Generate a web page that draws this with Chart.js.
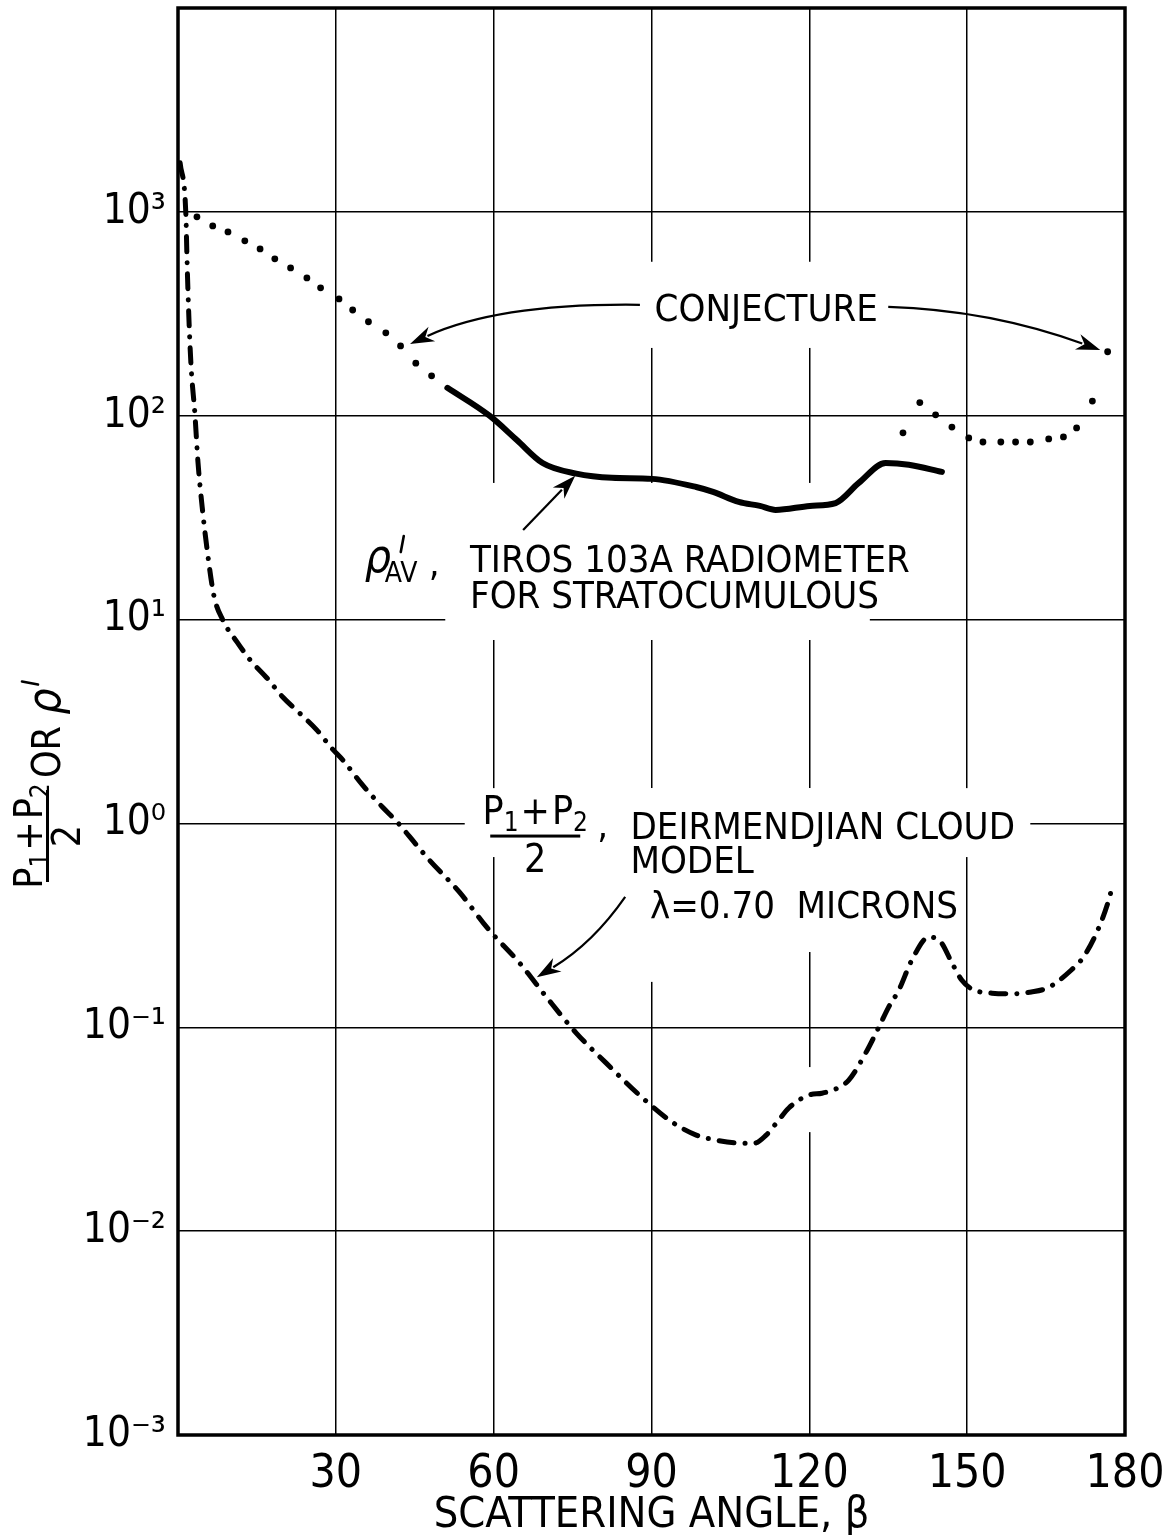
<!DOCTYPE html>
<html>
<head>
<meta charset="utf-8">
<script src="https://cdn.jsdelivr.net/npm/chart.js@4.4.1/dist/chart.umd.min.js"></script>
<style>
  html, body { margin: 0; padding: 0; background: #fff; }
  #wrap { width: 1163px; height: 1535px; }
</style>
</head>
<body>
<div id="wrap"><canvas id="c" width="1163" height="1535"></canvas></div>
<script>
const FONT = "'Liberation Sans Narrow', 'DejaVu Sans Condensed', 'Liberation Sans', sans-serif";

// Deirmendjian cloud model, (P1 + P2) / 2 at 0.70 microns
const modelAngle = [0.4, 1.5, 1.7, 2.1, 2.5, 3.2, 3.8, 4.6, 5.5, 6.8, 8.5, 11.2, 13.7, 16.9, 19.9,
  23.1, 26.4, 29.2, 31.3, 35.1, 38.9, 41.6, 45.4, 47.8, 53.5, 58.8, 64.9, 70.0, 75.7, 81.4, 87.7,
  93.9, 98.5, 101.5, 107.2, 109.5, 111.8, 114.2, 116.1, 119.9, 122.4, 125.0, 127.5, 130.7, 133.2,
  135.1, 137.0, 139.5, 142.7, 145.0, 147.1, 149.0, 150.9, 154.7, 158.4, 162.2, 165.5, 169.8, 172.1,
  175.0, 176.9, 177.4];
const modelValue = [1740, 967, 601, 288, 172, 103, 59, 35.6, 22.4, 13.2, 9.96, 7.77, 6.34, 5.17, 4.17,
  3.48, 2.87, 2.34, 2.05, 1.54, 1.2, 1.02, 0.78, 0.66, 0.46, 0.307, 0.207, 0.141, 0.0937, 0.0667, 0.0465,
  0.0343, 0.0296, 0.0282, 0.027, 0.027, 0.0296, 0.0351, 0.0402, 0.0465, 0.0475, 0.0498, 0.0551, 0.0747, 0.1,
  0.126, 0.152, 0.214, 0.277, 0.262, 0.207, 0.17, 0.154, 0.147, 0.146, 0.149, 0.157, 0.191, 0.221,
  0.307, 0.42, 0.47];

// rho'_AV from the TIROS 103A radiometer, stratocumulus
const tirosAngle = [51.2, 59.2, 64.4, 69.3, 75.7, 82.5, 90.1, 98.5, 101.7, 106.6, 110.6, 113.6, 120.1,
  125.0, 129.4, 134.5, 138.9, 145.2];
const tirosValue = [137, 100, 76, 58.6, 52, 49.6, 49, 44.7, 42.3, 37.8, 36.1, 34.5, 36.1,
  37.3, 46.8, 58.6, 57.5, 53];

// conjectured extension of rho' (dotted)
const conjAngle = [3.6, 6.6, 9.5, 12.7, 15.6, 18.4, 21.4, 24.5, 27.1, 30.6, 33.2, 36.2, 39.5, 42.3, 45.2, 48.2,
  137.8, 141.0, 144.0, 147.1, 150.3, 153.0, 156.4, 159.2, 162.0, 165.5, 168.3, 170.8, 173.8, 176.7];
const conjValue = [945, 853, 797, 721, 658, 588, 531, 474, 424, 374, 330, 289, 255, 220, 181, 157,
  82.4, 116, 101, 88, 77.8, 74.3, 74.3, 74.3, 74.3, 76.9, 78.7, 87.1, 118, 206];

// axis ticks
const xTickValues = [0, 30, 60, 90, 120, 150, 180];
const xTickLabels = ['', '30', '60', '90', '120', '150', '180'];
const yTickValues = [1e-3, 1e-2, 1e-1, 1, 10, 100, 1000];
const yTickLabels = ['10\u207B\u00B3', '10\u207B\u00B2', '10\u207B\u00B9', '10\u2070', '10\u00B9', '10\u00B2', '10\u00B3'];

// white patches where the grid is broken around the lettering: [angle0, angle1, value0, value1]
const gridBreaks = [
  [87.8, 135.3, 569, 215],
  [50.8, 131.5, 46.8, 7.94],
  [54.5, 162.0, 1.49, 0.684],
  [80.2, 99.2, 1.49, 0.167],
  [99.2, 148.6, 1.49, 0.234],
  [119.2, 121.0, 0.0638, 0.0306]
];

// leader arrows: start, bend, tip as [angle, value]
const leaders = [
  [[87.8, 350], [61.2, 357], [44.1, 225]],
  [[135.0, 342], [154.3, 330], [175.3, 210]],
  [[65.6, 27.5], null, [75.5, 50.7]],
  [[85.0, 0.436], [78.9, 0.259], [68.2, 0.176]]
];

const pts = (a, v) => a.map((x, i) => ({ x, y: v[i] }));

function fontStr(r) {
  return (r.style || '') + ' ' + (r.size || 38) + 'px ' + (r.family || FONT);
}
function runsWidth(ctx, runs) {
  let w = 0;
  runs.forEach(r => { ctx.font = fontStr(r); w += ctx.measureText(r.t).width + (r.dx || 0); });
  return w;
}
function drawRuns(ctx, runs, x, y, align) {
  const w = runsWidth(ctx, runs);
  let cx = align === 'center' ? x - w / 2 : (align === 'right' ? x - w : x);
  ctx.textAlign = 'left';
  ctx.textBaseline = 'alphabetic';
  runs.forEach(r => {
    ctx.font = fontStr(r);
    ctx.fillText(r.t, cx, y + (r.dy || 0));
    cx += ctx.measureText(r.t).width + (r.dx || 0);
  });
  return cx;
}
// hand-lettered prime: a short slanted stroke
function prime(ctx, x, y) {
  ctx.save();
  ctx.lineWidth = 2.6;
  ctx.lineCap = 'round';
  ctx.beginPath();
  ctx.moveTo(x + 3, y - 16);
  ctx.lineTo(x, y);
  ctx.stroke();
  ctx.restore();
}
function drawArrow(ctx, p0, c, p1) {
  const head = 24, half = 8;
  const from = c || p0;
  const ang = Math.atan2(p1.y - from.y, p1.x - from.x);
  const bx = p1.x - head * 0.8 * Math.cos(ang), by = p1.y - head * 0.8 * Math.sin(ang);
  ctx.beginPath();
  ctx.moveTo(p0.x, p0.y);
  if (c) ctx.quadraticCurveTo(c.x, c.y, bx, by); else ctx.lineTo(bx, by);
  ctx.stroke();
  ctx.beginPath();
  ctx.moveTo(p1.x, p1.y);
  ctx.lineTo(p1.x - head * Math.cos(ang) + half * Math.sin(ang), p1.y - head * Math.sin(ang) - half * Math.cos(ang));
  ctx.lineTo(p1.x - head * 0.7 * Math.cos(ang), p1.y - head * 0.7 * Math.sin(ang));
  ctx.lineTo(p1.x - head * Math.cos(ang) - half * Math.sin(ang), p1.y - head * Math.sin(ang) + half * Math.cos(ang));
  ctx.closePath();
  ctx.fill();
}
function fraction(ctx, cx, bar, barLen) {
  drawRuns(ctx, [
    { t: 'P', size: 39 }, { t: '1', size: 26, dy: 7, dx: 2 }, { t: '+', size: 39, dx: 2 },
    { t: 'P', size: 39 }, { t: '2', size: 26, dy: 7 }
  ], cx, bar - 12, 'center');
  ctx.fillRect(cx - barLen / 2, bar - 1.5, barLen, 3);
  drawRuns(ctx, [{ t: '2', size: 39 }], cx, bar + 36, 'center');
}

const lettering = {
  id: 'lettering',
  beforeDatasetsDraw(chart) {
    const { ctx, scales: { x, y } } = chart;
    const px = a => x.getPixelForValue(a);
    const py = v => y.getPixelForValue(v);
    ctx.save();
    ctx.fillStyle = '#fff';
    gridBreaks.forEach(b => {
      const x0 = px(b[0]), x1 = px(b[1]), y0 = py(b[2]), y1 = py(b[3]);
      ctx.fillRect(x0, y0, x1 - x0, y1 - y0);
    });
    ctx.fillStyle = '#000';
    ctx.strokeStyle = '#000';

    // CONJECTURE
    drawRuns(ctx, [{ t: 'CONJECTURE', size: 38 }], px(111.8), py(292), 'center');

    // rho'_AV, TIROS 103A RADIOMETER / FOR STRATOCUMULOUS
    const rx = px(35.5), ry = py(17.1);
    drawRuns(ctx, [{ t: '\u03C1', size: 46, style: 'italic' }], rx, ry, 'left');
    prime(ctx, rx + 36, ry - 20);
    drawRuns(ctx, [{ t: 'AV', size: 28 }], rx + 20, ry + 10, 'left');
    drawRuns(ctx, [{ t: ',', size: 38 }], rx + 64, ry + 4, 'left');
    drawRuns(ctx, [{ t: 'TIROS 103A RADIOMETER', size: 38 }], px(55.5), ry, 'left');
    drawRuns(ctx, [{ t: 'FOR STRATOCUMULOUS', size: 38 }], px(55.5), py(11.4), 'left');

    // (P1+P2)/2, DEIRMENDJIAN CLOUD MODEL
    const fx = px(67.9);
    const bar = py(0.867);
    fraction(ctx, fx, bar, 90);
    drawRuns(ctx, [{ t: ',', size: 38 }], fx + 62, bar + 2, 'left');
    drawRuns(ctx, [{ t: 'DEIRMENDJIAN CLOUD', size: 38 }], px(86.0), bar + 3, 'left');
    drawRuns(ctx, [{ t: 'MODEL', size: 38 }], px(86.0), bar + 37, 'left');

    // wavelength
    drawRuns(ctx, [{ t: '\u03BB=0.70  MICRONS', size: 38 }], px(89.7), py(0.343), 'left');
    ctx.restore();
  },
  afterDatasetsDraw(chart) {
    const { ctx, chartArea: ca, scales: { x, y } } = chart;
    const P = d => d ? { x: x.getPixelForValue(d[0]), y: y.getPixelForValue(d[1]) } : null;
    ctx.save();
    ctx.strokeStyle = '#000';
    ctx.fillStyle = '#000';
    ctx.lineWidth = 2.2;
    leaders.forEach(l => drawArrow(ctx, P(l[0]), P(l[1]), P(l[2])));
    // plot frame
    ctx.lineWidth = 3.5;
    ctx.strokeRect(ca.left, ca.top, ca.right - ca.left, ca.bottom - ca.top);
    ctx.restore();
  },
  afterDraw(chart) {
    // rotated y-axis title: (P1+P2)/2 OR rho'
    const { ctx } = chart;
    ctx.save();
    ctx.fillStyle = '#000';
    ctx.strokeStyle = '#000';
    ctx.rotate(-Math.PI / 2);
    const c = -836;
    drawRuns(ctx, [
      { t: 'P', size: 39 }, { t: '1', size: 26, dy: 7, dx: 2 }, { t: '+', size: 39, dx: 2 },
      { t: 'P', size: 39 }, { t: '2', size: 26, dy: 7 }
    ], c, 42, 'center');
    ctx.fillRect(c - 46, 46, 92, 3);
    drawRuns(ctx, [{ t: '2', size: 39 }], c, 80, 'center');
    const end = drawRuns(ctx, [
      { t: 'OR ', size: 39 }, { t: '\u03C1', size: 46, style: 'italic' }
    ], -778, 60, 'left');
    prime(ctx, end + 4, 38);
    ctx.restore();
  }
};

new Chart(document.getElementById('c'), {
  type: 'scatter',
  data: {
    datasets: [
      {
        label: '(P1+P2)/2, Deirmendjian cloud model',
        data: pts(modelAngle, modelValue),
        showLine: true,
        borderColor: '#000',
        borderWidth: 5,
        borderDash: [15, 11, 0.1, 11],
        borderCapStyle: 'round',
        cubicInterpolationMode: 'monotone',
        pointRadius: 0,
        fill: false
      },
      {
        label: "rho'AV, TIROS 103A radiometer",
        data: pts(tirosAngle, tirosValue),
        showLine: true,
        borderColor: '#000',
        borderWidth: 6,
        borderCapStyle: 'round',
        borderJoinStyle: 'round',
        cubicInterpolationMode: 'monotone',
        pointRadius: 0,
        fill: false
      },
      {
        label: 'Conjecture',
        data: pts(conjAngle, conjValue),
        showLine: false,
        pointRadius: 3.4,
        pointBackgroundColor: '#000',
        pointBorderWidth: 0
      }
    ]
  },
  options: {
    responsive: false,
    animation: false,
    devicePixelRatio: 1,
    layout: { padding: { top: 8, right: 38, left: 0, bottom: 0 } },
    plugins: { legend: { display: false }, tooltip: { enabled: false } },
    scales: {
      x: {
        type: 'linear',
        min: 0,
        max: 180,
        afterBuildTicks: s => { s.ticks = xTickValues.map(v => ({ value: v })); },
        afterFit: s => { s.height = 100; s.paddingLeft = 0; s.paddingRight = 0; },
        ticks: {
          callback: (v, i) => xTickLabels[i],
          font: { family: FONT, size: 46 },
          color: '#000',
          padding: 12,
          maxRotation: 0,
          autoSkip: false
        },
        grid: { color: '#000', lineWidth: 1.5, drawTicks: false },
        border: { display: false },
        title: {
          display: true,
          text: 'SCATTERING ANGLE, \u03B2',
          font: { family: FONT, size: 43, lineHeight: 1 },
          color: '#000',
          padding: { top: 0, bottom: -2 }
        }
      },
      y: {
        type: 'logarithmic',
        min: 1e-3,
        max: 1e4,
        afterBuildTicks: s => { s.ticks = yTickValues.map(v => ({ value: v })); },
        afterFit: s => { s.width = 178; s.paddingTop = 0; s.paddingBottom = 0; },
        ticks: {
          callback: (v, i) => yTickLabels[i],
          font: { family: FONT, size: 42 },
          color: '#000',
          padding: 12,
          autoSkip: false
        },
        grid: { color: '#000', lineWidth: 1.5, drawTicks: false },
        border: { display: false }
      }
    }
  },
  plugins: [lettering]
});
</script>
</body>
</html>
